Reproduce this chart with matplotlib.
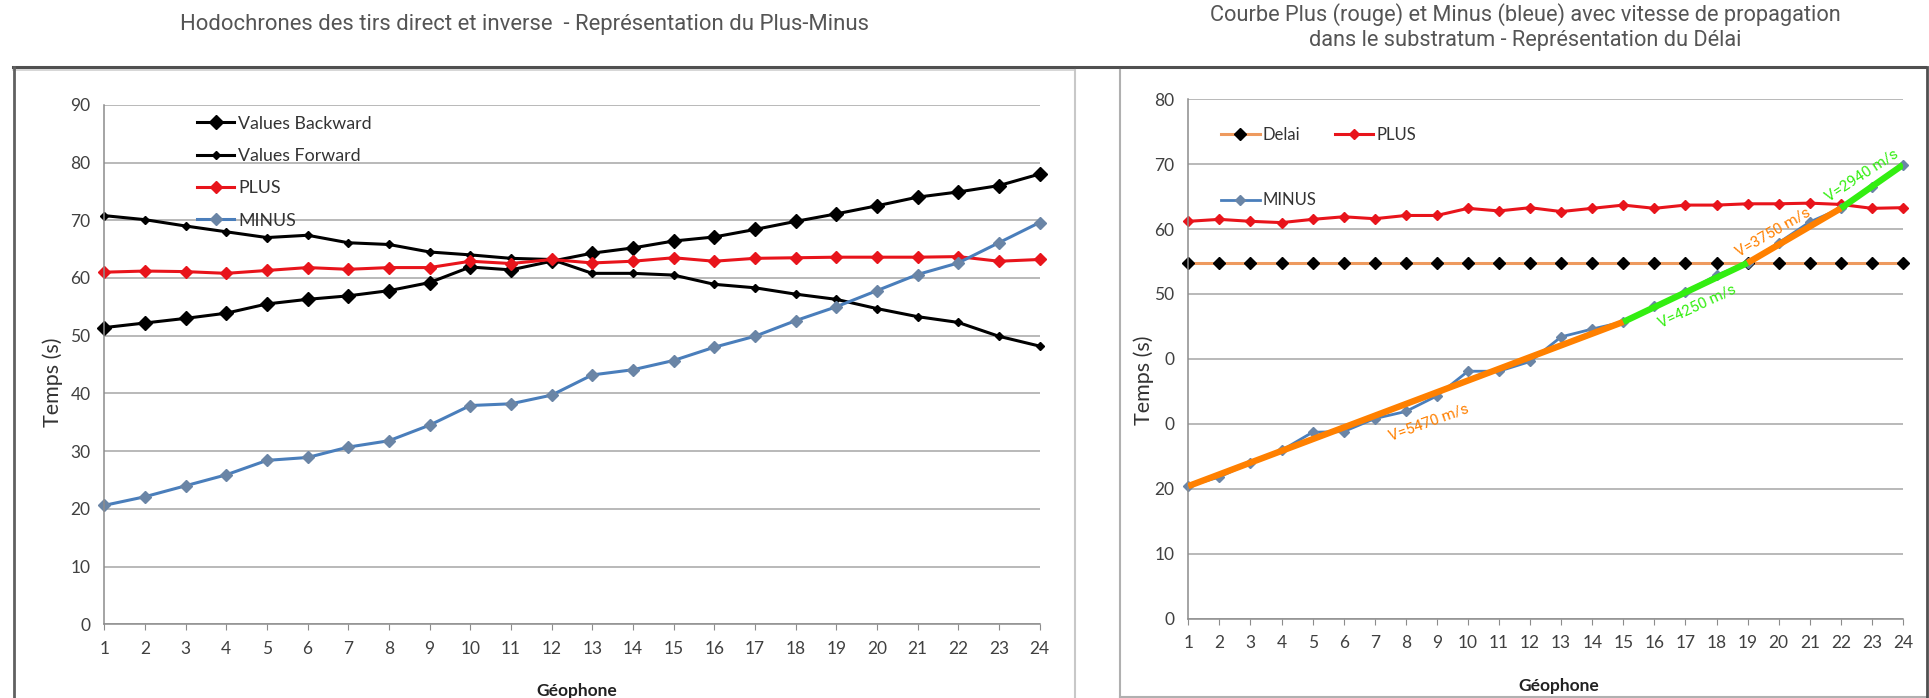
import numpy as np
import matplotlib.pyplot as plt
from matplotlib.lines import Line2D

# --- donnees ---
geophones = list(range(1, 25))

values_backward = [51.4, 52.2, 53.0, 53.9, 55.5, 56.3, 56.9, 57.8, 59.2, 61.9, 61.4, 62.9,
                   64.3, 65.2, 66.4, 67.1, 68.4, 69.8, 71.1, 72.5, 74.0, 74.9, 76.0, 78.0]
values_forward = [70.8, 70.1, 69.0, 68.0, 67.0, 67.4, 66.1, 65.8, 64.5, 64.0, 63.4, 63.2,
                  60.8, 60.8, 60.5, 58.9, 58.3, 57.2, 56.3, 54.7, 53.3, 52.3, 49.9, 48.2]
plus_left = [61.0, 61.2, 61.1, 60.8, 61.3, 61.8, 61.5, 61.8, 61.8, 62.9, 62.5, 63.2,
             62.6, 62.9, 63.5, 62.9, 63.4, 63.5, 63.6, 63.6, 63.6, 63.7, 62.9, 63.2]
minus_left = [20.6, 22.1, 24.0, 25.9, 28.4, 28.9, 30.7, 31.8, 34.5, 37.9, 38.2, 39.7,
              43.2, 44.1, 45.7, 48.0, 49.9, 52.6, 55.0, 57.8, 60.6, 62.6, 66.1, 69.6]

delai = [54.8] * 24
plus_right = [61.2, 61.5, 61.2, 61.0, 61.5, 61.9, 61.6, 62.1, 62.1, 63.2, 62.8, 63.3,
              62.7, 63.2, 63.7, 63.2, 63.7, 63.7, 63.9, 63.9, 64.0, 63.8, 63.2, 63.3]
minus_right = [20.4, 21.8, 24.0, 25.9, 28.7, 28.8, 30.8, 31.9, 34.3, 38.1, 38.1, 39.6,
               43.4, 44.6, 45.7, 48.2, 50.3, 52.9, 54.8, 57.9, 61.1, 63.2, 66.5, 69.9]

# droites de vitesse dans le substratum
seg_x = [(1, 15), (15, 19), (19, 22), (22, 24)]
seg_y = [(20.4, 45.7), (45.7, 54.8), (54.8, 63.2), (63.2, 69.9)]
seg_colors = ['#FF8000', '#33EE11', '#FF8000', '#33EE11']
vel_labels = ['V=5470 m/s', 'V=4250 m/s', 'V=3750 m/s', 'V=2940 m/s']
vel_label_pos = [(8.73, 30.2), (17.36, 48.2), (19.83, 59.6), (22.67, 68.3)]
vel_label_rot = [20, 25, 30, 33]

yticks_left = list(range(0, 100, 10))
yticks_right = list(range(0, 90, 10))
yticklabels_right = ['0', '10', '20', '0', '0', '50', '60', '70', '80']

W, H = 1929, 698
fig = plt.figure(figsize=(W / 100, H / 100), dpi=100)
fig.patch.set_facecolor('white')

EXCEL_FONT = 'Lato'
TICK_COL = '#404040'
GRID_COL = '#A6A6A6'
BLUE_LINE = '#4A7EBB'
BLUE_MARK = '#6A85A6'


def px_axes(x0, y0, x1, y1):
    # zone de trace en pixels (haut-gauche / bas-droit)
    return fig.add_axes([x0 / W, 1 - y1 / H, (x1 - x0) / W, (y1 - y0) / H])


def fig_line(x0, y0, x1, y1, color, lw):
    fig.add_artist(Line2D([x0 / W, x1 / W], [1 - y0 / H, 1 - y1 / H],
                          transform=fig.transFigure, color=color, lw=lw))


def style_axes(ax, yticks, ylim):
    ax.set_xlim(1, 24)
    ax.set_ylim(*ylim)
    ax.set_xticks(geophones)
    ax.set_yticks(yticks)
    ax.yaxis.grid(True, color=GRID_COL, lw=1.1)
    ax.set_axisbelow(True)
    for s in ['top', 'right']:
        ax.spines[s].set_visible(False)
    for s in ['left', 'bottom']:
        ax.spines[s].set_color('#8C8C8C')
        ax.spines[s].set_linewidth(1.1)
    ax.tick_params(axis='x', direction='out', length=4, color='#8C8C8C',
                   labelcolor=TICK_COL, labelsize=12.5, pad=8)
    ax.tick_params(axis='y', length=0, labelcolor=TICK_COL, labelsize=12.5, pad=10)
    for lab in ax.get_xticklabels() + ax.get_yticklabels():
        lab.set_fontfamily(EXCEL_FONT)


# --- cadres ---
fig_line(13, 67, 1925, 67, '#505050', 2.2)
fig_line(13, 70, 1075, 70, '#D0D0D0', 1.2)
fig_line(14, 67, 14, 698, '#606060', 2.0)
fig_line(1075, 70, 1075, 698, '#C8C8C8', 1.5)
fig_line(1120, 70, 1120, 697, '#B0B0B0', 1.5)
fig_line(1120, 697, 1927, 697, '#B0B0B0', 1.5)
fig_line(1927, 67, 1927, 698, '#505050', 2.0)

# --- graphique gauche : Plus-Minus ---
ax1 = px_axes(104.3, 104.8, 1039.5, 624.3)
style_axes(ax1, yticks_left, (0, 90))
ax1.plot(geophones, values_backward, color='black', lw=2.2, marker='D', ms=7,
         label='Values Backward', clip_on=False)
ax1.plot(geophones, values_forward, color='black', lw=2.2, marker='D', ms=4.5,
         label='Values Forward', clip_on=False)
ax1.plot(geophones, plus_left, color='#E8141B', lw=2.2, marker='D', ms=6.5,
         label='PLUS', clip_on=False)
ax1.plot(geophones, minus_left, color=BLUE_LINE, lw=2.2, marker='D', ms=6,
         mfc=BLUE_MARK, mec=BLUE_MARK, label='MINUS', clip_on=False)
ax1.set_ylabel('Temps (s)', fontsize=15.5, color='#333333', fontfamily=EXCEL_FONT)
ax1.yaxis.set_label_coords(-0.044, 0.466)
ax1.set_xlabel('Géophone', fontsize=12.5, fontweight='bold', color='#222222',
               fontfamily=EXCEL_FONT)
ax1.xaxis.set_label_coords(0.505, -0.113)
ax1.legend(loc='upper left', bbox_to_anchor=(0.082, 1.01), frameon=False,
           prop={'family': EXCEL_FONT, 'size': 12.8}, handlelength=2.1,
           handletextpad=0.2, labelspacing=0.92, numpoints=1,
           labelcolor='#333333')

# --- graphique droit : Delai ---
ax2 = px_axes(1188.3, 99.3, 1903, 618.5)
style_axes(ax2, yticks_right, (0, 80))
ax2.set_yticklabels(yticklabels_right)
for lab in ax2.get_yticklabels():
    lab.set_fontfamily(EXCEL_FONT)
h_delai, = ax2.plot(geophones, delai, color='#EE9A5E', lw=2.2, marker='D', ms=6.5,
                    mfc='black', mec='black', label='Delai', clip_on=False)
h_plus, = ax2.plot(geophones, plus_right, color='#E8141B', lw=2.2, marker='D', ms=5.5,
                   label='PLUS', clip_on=False)
h_minus, = ax2.plot(geophones, minus_right, color=BLUE_LINE, lw=2.0, marker='D', ms=5.5,
                    mfc=BLUE_MARK, mec=BLUE_MARK, label='MINUS', clip_on=False)
for (xa, xb), (ya, yb), c in zip(seg_x, seg_y, seg_colors):
    ax2.plot([xa, xb], [ya, yb], color=c, lw=4.6, solid_capstyle='butt', zorder=5)
for txt, (tx, ty), rot, c in zip(vel_labels, vel_label_pos, vel_label_rot, seg_colors):
    ax2.text(tx, ty, txt, color=c, fontsize=11, fontfamily='Roboto', rotation=rot,
             rotation_mode='anchor', ha='center', va='center', zorder=6)
ax2.set_ylabel('Temps (s)', fontsize=15.5, color='#333333', fontfamily=EXCEL_FONT)
ax2.yaxis.set_label_coords(-0.048, 0.458)
ax2.set_xlabel('Géophone', fontsize=12.5, fontweight='bold', color='#222222',
               fontfamily=EXCEL_FONT)
ax2.xaxis.set_label_coords(0.519, -0.114)
ax2.legend(handles=[h_delai, h_minus, h_plus], ncol=2, loc='upper left',
           bbox_to_anchor=(0.025, 0.975), frameon=False,
           prop={'family': EXCEL_FONT, 'size': 12}, handlelength=2.3,
           handletextpad=0.2, labelspacing=2.95, columnspacing=1.1, numpoints=1,
           labelcolor='#333333')

# --- titres ---
fig.text(0.2719, 0.9648, 'Hodochrones des tirs direct et inverse  - Représentation du Plus-Minus',
         ha='center', va='center', fontsize=15.9, color='#555555', fontfamily='Roboto')
fig.text(0.7906, 0.9612, 'Courbe Plus (rouge) et Minus (bleue) avec vitesse de propagation\n'
         'dans le substratum - Représentation du Délai',
         ha='center', va='center', fontsize=15.7, color='#555555', fontfamily='Roboto',
         linespacing=1.2)

fig.savefig('out.png', dpi=100)
